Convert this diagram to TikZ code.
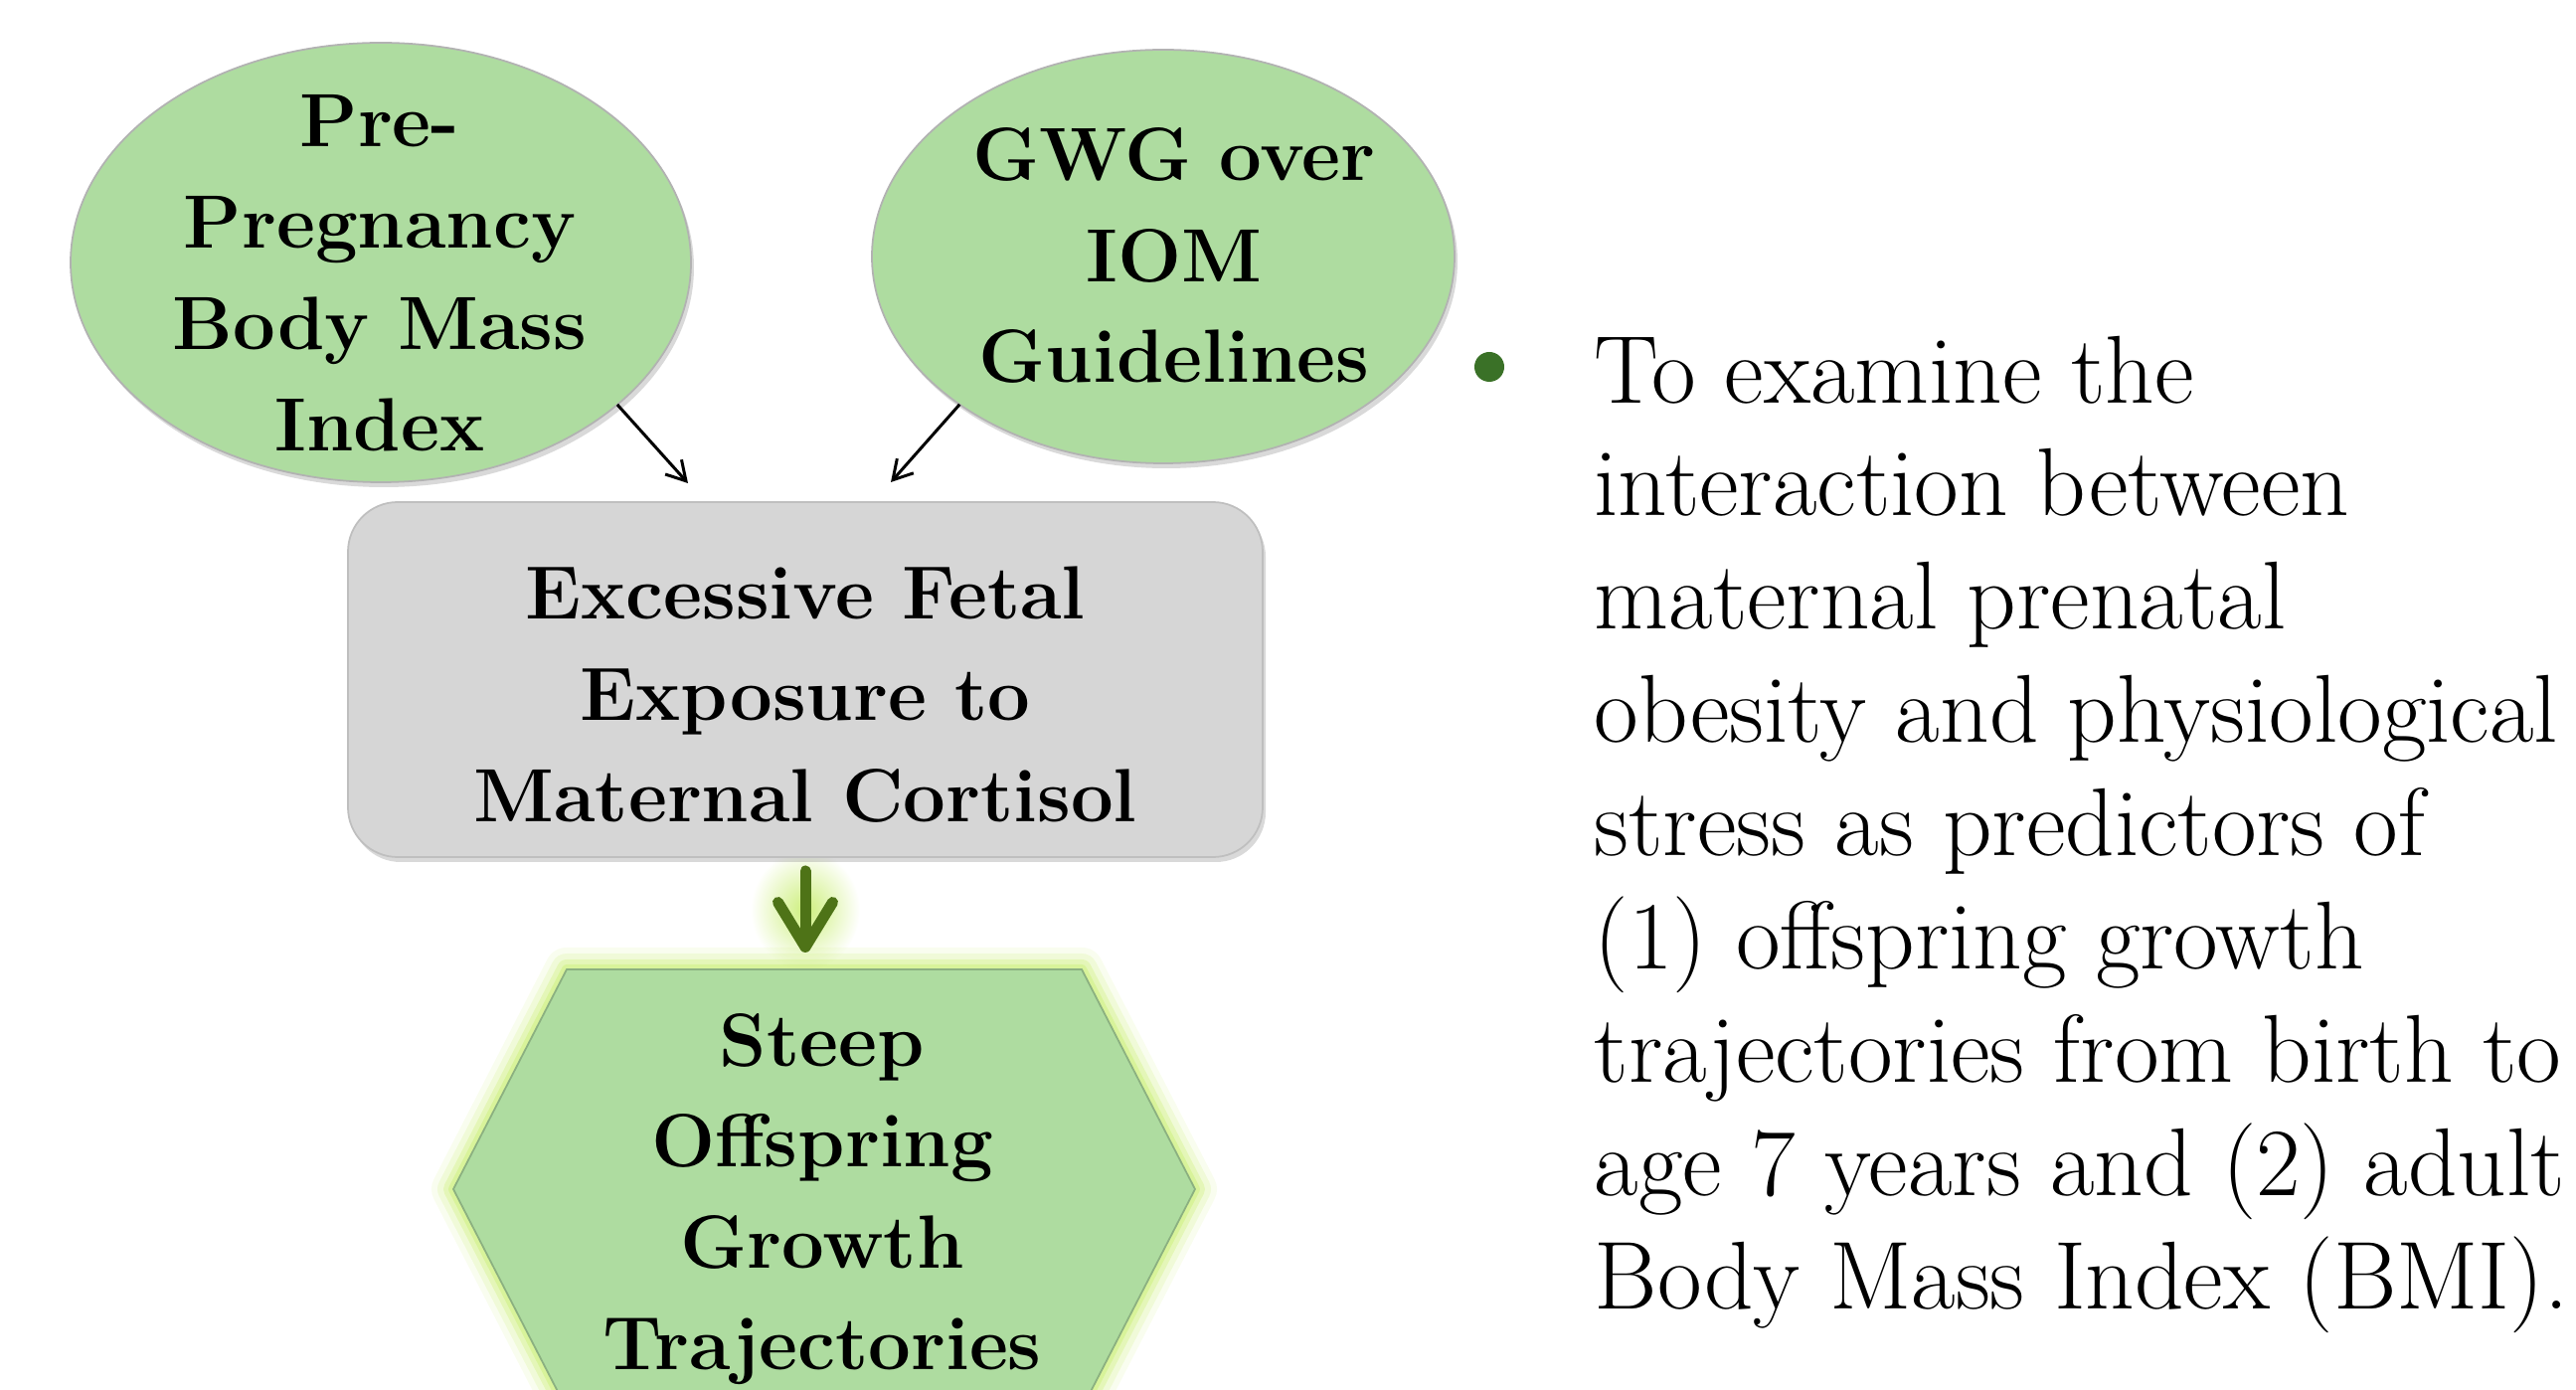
\documentclass[tikz,border=0pt]{standalone}
\usetikzlibrary{arrows.meta, positioning, shapes.geometric, calc, shadows}
\definecolor{cleaf}{HTML}{AEDCA0}
\definecolor{cgrey}{HTML}{D6D6D6}
\definecolor{cglow}{HTML}{CDEF7C}
\definecolor{colive}{HTML}{4E7317}
\definecolor{cdot}{HTML}{3A7127}
\tikzset{
  blob/.style={ellipse, draw=black!30, line width=0.5pt, fill=cleaf, inner sep=0pt, outer sep=0pt,
    drop shadow={shadow xshift=0.03cm, shadow yshift=-0.05cm, opacity=0.3}},
  panel/.style={rectangle, rounded corners=0.5cm, draw=black!25, line width=0.5pt, fill=cgrey, inner sep=0pt, outer sep=0pt,
    drop shadow={shadow xshift=0.03cm, shadow yshift=-0.05cm, opacity=0.3}},
  boxtext/.style={font=\bfseries\fontsize{21.6}{29}\selectfont, align=center, inner sep=0pt},
  body/.style={font=\fontsize{27.6}{32.4}\selectfont, align=left, inner sep=0pt, anchor=north west},
  pointer/.style={-{Straight Barb[length=0.19cm, width=0.22cm]}, draw=black, line width=0.03cm},
  growarrow/.style={-{Straight Barb[length=0.45cm, width=0.55cm, round]}, draw=colive, line width=0.11cm, line cap=round},
}
\begin{document}
\begin{tikzpicture}
  \useasboundingbox (0,0) rectangle (25.91,-13.98);
  \shade[inner color=cglow, outer color=white] (8.10,-9.15) ellipse [x radius=0.55cm, y radius=0.6cm];
  \coordinate (h1) at (5.70,-9.75); \coordinate (h2) at (10.88,-9.75); \coordinate (h3) at (12.02,-11.96);
  \coordinate (h4) at (10.88,-14.17); \coordinate (h5) at (5.70,-14.17); \coordinate (h6) at (4.56,-11.96);
  \coordinate (hextop) at (8.29,-9.75);
  \foreach \w/\o in {0.44/0.12, 0.32/0.2, 0.2/0.35, 0.1/0.5}
    \draw[cglow, line width=\w cm, opacity=\o, line join=round] (h1) -- (h2) -- (h3) -- (h4) -- (h5) -- (h6) -- cycle;
  \filldraw[fill=cleaf, draw=cleaf!80!black, line width=0.5pt] (h1) -- (h2) -- (h3) -- (h4) -- (h5) -- (h6) -- cycle;
  \node[blob, minimum width=6.24cm, minimum height=4.42cm] (prebmi) at (3.83,-2.64) {};
  \node[boxtext] (prebmitext) at (3.82,-2.75) {Pre-\\Pregnancy\\Body Mass\\Index};
  \node[blob, minimum width=5.86cm, minimum height=4.16cm] (gwg) at (11.70,-2.58) {};
  \node[boxtext] (gwgtext) at (11.81,-2.57) {GWG over\\IOM\\Guidelines};
  \node[panel, minimum width=9.2cm, minimum height=3.57cm] (cortisol) at (8.10,-6.835) {};
  \node[boxtext] (cortisoltext) at (8.10,-6.99) {Excessive Fetal\\Exposure to\\Maternal Cortisol};
  \node[boxtext] (growth) at (8.27,-12.06) {Steep\\Offspring\\Growth\\Trajectories};
  \draw[pointer] (prebmi.-31) -- ([xshift=-1.18cm, yshift=0.19cm]cortisol.north);
  \draw[pointer] (gwg.-144) -- ([xshift=0.86cm, yshift=0.20cm]cortisol.north);
  \draw[growarrow, shorten <=0.14cm, shorten >=0.17cm] (cortisol.south) -- (cortisol.south |- hextop);
  \node[circle, fill=cdot, minimum size=0.3cm, inner sep=0pt] (dot) at (14.98,-3.69) {};
  \node[body] (aim) at (16.03,-3.37) {To examine the\\interaction between\\maternal prenatal\\obesity and physiological\\stress as predictors of\\(1) offspring growth\\trajectories from birth to\\age 7 years and (2) adult\\Body Mass Index (BMI).};
\end{tikzpicture}
\end{document}
